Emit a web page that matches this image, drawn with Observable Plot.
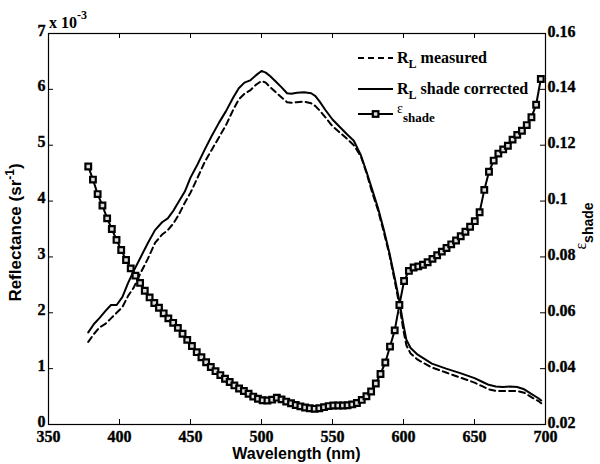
<!DOCTYPE html>
<html><head><meta charset="utf-8">
<script src="https://cdn.jsdelivr.net/npm/d3@7"></script>
<script src="https://cdn.jsdelivr.net/npm/@observablehq/plot@0.6"></script>
<style>
body{margin:0;background:#fff}
#wrap{position:relative;width:600px;height:464px}
#wrap svg{position:absolute;left:0;top:0}
.mchart text{font-weight:700 !important;font-family:'Liberation Serif','DejaVu Serif',serif !important;font-size:16px !important;stroke:#000;stroke-width:0.35px}
</style>
</head><body><div id="wrap"></div>
<script>
// Reflectance (x 10^-3 sr^-1)
const wavelengthR = [378,382,386,390,394,398,402,406,410,415,420,425,430,434,438,442,446,450,455,460,465,470,475,480,484,488,492,496,500,503,506,510,514,518,521,525,530,535,538,541,545,550,555,560,565,570,574,578,582,586,590,594,597,600,602,605,610,615,620,630,640,650,655,660,665,670,675,680,685,690,695,697];
const rlCorrected = [1.65,1.80,1.91,2.03,2.14,2.14,2.28,2.53,2.75,3.00,3.25,3.48,3.62,3.69,3.83,4.00,4.17,4.42,4.66,4.92,5.17,5.40,5.61,5.85,6.02,6.12,6.16,6.25,6.33,6.30,6.24,6.14,6.04,5.93,5.92,5.94,5.95,5.93,5.88,5.78,5.63,5.46,5.33,5.20,5.08,4.82,4.52,4.20,3.88,3.50,3.08,2.60,2.22,1.78,1.52,1.37,1.25,1.17,1.09,1.00,0.92,0.83,0.77,0.71,0.68,0.67,0.68,0.67,0.63,0.55,0.47,0.43];
const rlMeasured = [1.48,1.62,1.74,1.80,1.90,2.00,2.10,2.30,2.45,2.72,2.97,3.25,3.40,3.48,3.60,3.77,3.97,4.15,4.42,4.70,4.92,5.14,5.36,5.63,5.82,5.92,5.98,6.08,6.15,6.12,6.04,5.95,5.86,5.77,5.76,5.77,5.78,5.75,5.70,5.62,5.50,5.34,5.23,5.12,5.00,4.80,4.50,4.15,3.84,3.46,3.05,2.55,2.15,1.68,1.42,1.27,1.16,1.09,1.02,0.93,0.84,0.75,0.69,0.63,0.60,0.60,0.60,0.60,0.57,0.49,0.42,0.38];

// epsilon_shade (right axis)
const wavelengthEps = [378.0,381.3,384.6,388.0,391.3,394.6,397.9,401.2,404.6,407.9,411.2,414.5,417.8,421.2,424.5,427.8,431.1,434.4,437.8,441.1,444.4,447.7,451.0,454.4,457.7,461.0,464.3,467.6,471.0,474.3,477.6,480.9,484.2,487.6,490.9,494.2,497.5,500.8,504.2,507.5,510.8,514.1,517.4,520.8,524.1,527.4,530.7,534.0,537.4,540.7,544.0,547.3,550.6,554.0,557.3,560.6,563.9,567.2,570.6,573.9,577.2,580.5,583.8,587.2,590.5,593.8,597.1,600.4,603.8,607.1,610.4,613.7,617.0,620.4,623.7,627.0,630.3,633.6,637.0,640.3,643.6,646.9,650.2,653.6,656.9,660.2,663.5,666.8,670.2,673.5,676.8,680.1,683.4,686.8,690.1,693.4,696.7];
const epsShade = [0.1124,0.1077,0.1025,0.0984,0.0938,0.0900,0.0861,0.0825,0.0789,0.0759,
0.0733,0.0707,0.0679,0.0655,0.0635,0.0618,0.0598,0.0580,0.0564,0.0546,
0.0525,0.0503,0.0481,0.0459,0.0441,0.0423,0.0406,0.0391,0.0377,0.0364,
0.0352,0.0340,0.0329,0.0320,0.0310,0.0300,0.0292,0.0287,0.0286,0.0289,
0.0296,0.0290,0.0282,0.0276,0.0270,0.0265,0.0261,0.0258,0.0256,0.0258,
0.0262,0.0266,0.0268,0.0268,0.0268,0.0269,0.0272,0.0277,0.0288,0.0301,
0.0318,0.0347,0.0381,0.0422,0.0479,0.0537,0.0628,0.0714,0.0750,0.0762,
0.0766,0.0772,0.0781,0.0793,0.0806,0.0819,0.0832,0.0845,0.0859,0.0874,
0.0890,0.0908,0.0928,0.0960,0.1040,0.1105,0.1145,0.1170,0.1185,0.1198,
0.1220,0.1237,0.1252,0.1272,0.1300,0.1345,0.1437];

const xTicks = [350,400,450,500,550,600,650,700];
const leftTicks = [0,1,2,3,4,5,6,7];
const rightTicks = [0.02,0.04,0.06,0.08,0.10,0.12,0.14,0.16];

const W = 600, H = 464, mT = 33, mB = 40, mL = 48, mR = 55;
const innerW = W - mL - mR, innerH = H - mT - mB;
const toLeft = e => (e - 0.02) / 0.02; // right-axis value -> left-axis units

const measured = wavelengthR.map((w, i) => ({w, v: rlMeasured[i]}));
const corrected = wavelengthR.map((w, i) => ({w, v: rlCorrected[i]}));
const eps = wavelengthEps.map((w, i) => ({w, e: epsShade[i]}));

const serif = "'Liberation Serif', 'DejaVu Serif', serif";
const sans = "'Liberation Sans', Arial, sans-serif";
const tickFont = {fontSize: 16, fontWeight: "bold", fontFamily: serif};

const chart = Plot.plot({
  width: W, height: H,
  marginTop: mT, marginBottom: mB, marginLeft: mL, marginRight: mR,
  x: {domain: [350, 700]},
  y: {domain: [0, 7]},
  style: {fontFamily: serif, fontSize: "16px", fontWeight: "bold", color: "black", background: "white", overflow: "visible"},
  marks: [
    // inward ticks
    Plot.tickX(xTicks, {x: d => d, insetTop: innerH - 5, stroke: "black", strokeWidth: 1}),
    Plot.tickX(xTicks, {x: d => d, insetBottom: innerH - 5, stroke: "black", strokeWidth: 1}),
    Plot.tickY(leftTicks, {y: d => d, insetRight: innerW - 5, stroke: "black", strokeWidth: 1}),
    Plot.tickY(rightTicks, {y: toLeft, insetLeft: innerW - 5, stroke: "black", strokeWidth: 1}),
    Plot.axisX({ticks: xTicks, tickSize: 0, tickPadding: 6, label: null, tickFormat: d => String(d), ...tickFont}),
    Plot.axisY({ticks: leftTicks, tickSize: 0, tickPadding: 3, dy: -3, label: null, anchor: "left", tickFormat: d => String(d), ...tickFont}),
    Plot.axisY(rightTicks, {y: toLeft, anchor: "right", tickSize: 0, tickPadding: 2, dy: -2, label: null, tickFormat: d => String(+d.toFixed(2)), ...tickFont}),
    Plot.frame({stroke: "black", strokeWidth: 1.2}),
    Plot.line(measured, {x: "w", y: "v", stroke: "black", strokeWidth: 2, strokeDasharray: "6,4"}),
    Plot.line(corrected, {x: "w", y: "v", stroke: "black", strokeWidth: 2}),
    Plot.line(eps, {x: "w", y: d => toLeft(d.e), stroke: "black", strokeWidth: 2}),
    Plot.dot(eps, {x: "w", y: d => toLeft(d.e), symbol: "square", r: 3.2, stroke: "black", strokeWidth: 2.2, fill: "#ddd"})
  ]
});
chart.classList.add("mchart");

const wrap = document.getElementById("wrap");
wrap.appendChild(chart);

// overlay: titles, exponent, legend
const ov = d3.select(wrap).append("svg").attr("width", W).attr("height", H).style("pointer-events", "none");

// exponent
const ex = ov.append("text").attr("x", 49).attr("y", 28).attr("font-family", serif).attr("font-weight", "bold").attr("font-size", 16);
ex.append("tspan").text("x 10");
ex.append("tspan").attr("dy", -9).attr("font-size", 12).text("-3");

// x title
ov.append("text").attr("x", mL + innerW / 2).attr("y", 459).attr("text-anchor", "middle")
  .attr("font-family", sans).attr("font-weight", "bold").attr("font-size", 16).text("Wavelength (nm)");

// left title
const lt = ov.append("text").attr("transform", `translate(21,${mT + innerH / 2 + 4}) rotate(-90)`).attr("text-anchor", "middle")
  .attr("font-family", sans).attr("font-weight", "bold").attr("font-size", 17);
lt.append("tspan").text("Reflectance (sr");
lt.append("tspan").attr("dy", -7).attr("font-size", 12).text("-1");
lt.append("tspan").attr("dy", 7).text(")");

// right title
const rt = ov.append("text").attr("transform", `translate(586,226) rotate(-90)`).attr("text-anchor", "middle")
  .attr("font-family", sans).attr("font-weight", "bold").attr("font-size", 15);
rt.append("tspan").attr("font-family", serif).attr("font-weight", "normal").attr("font-size", 16).text("ε");
rt.append("tspan").attr("dy", 7).attr("font-size", 14).text("shade");

// legend
const lg = ov.append("g");
const rows = [
  {y: 58, dash: "6,4", marker: false, main: "R", sub: "L", rest: " measured"},
  {y: 89, dash: null, marker: false, main: "R", sub: "L", rest: " shade corrected"},
  {y: 114, dash: null, marker: true, main: "ε", sub: "shade", rest: ""}
];
rows.forEach(r => {
  const ln = lg.append("line").attr("x1", 358).attr("x2", 393).attr("y1", r.y).attr("y2", r.y)
    .attr("stroke", "black").attr("stroke-width", 2);
  if (r.dash) ln.attr("stroke-dasharray", r.dash);
  if (r.marker) lg.append("rect").attr("x", 372.8).attr("y", r.y - 2.8).attr("width", 5.6).attr("height", 5.6)
    .attr("fill", "#ddd").attr("stroke", "black").attr("stroke-width", 2.2);
  const t = lg.append("text").attr("x", 397).attr("font-family", serif).attr("font-weight", "bold").attr("font-size", 16);
  if (r.marker) {
    t.attr("y", r.y - 1);
    t.append("tspan").attr("font-size", 14).attr("font-weight", "normal").text(r.main);
    t.append("tspan").attr("dy", 9).attr("font-size", 13).text(r.sub);
  } else {
    t.attr("y", r.y + 5);
    t.append("tspan").text(r.main);
    t.append("tspan").attr("dy", 5).attr("font-size", 12).text(r.sub);
    t.append("tspan").attr("dy", -5).text(r.rest);
  }
});
</script>
</body></html>
